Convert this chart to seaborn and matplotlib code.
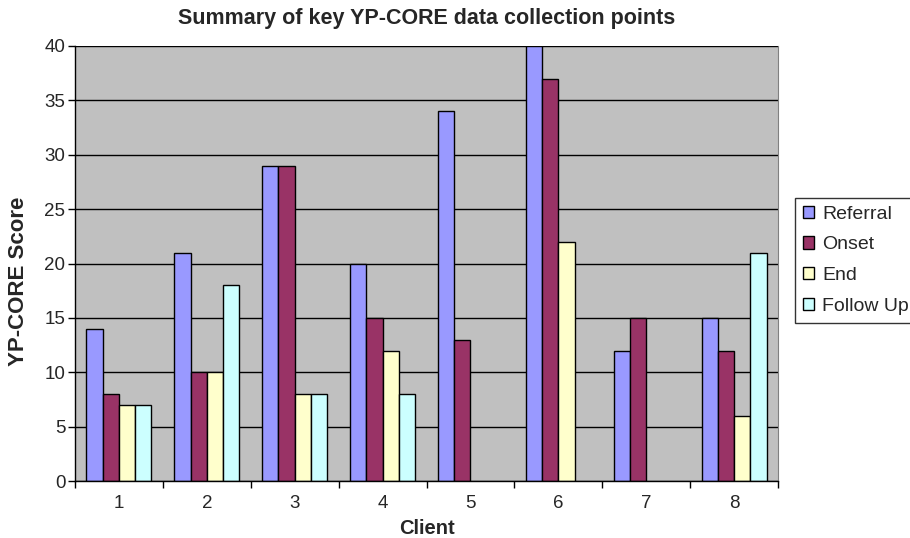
import numpy as np
import pandas as pd
import matplotlib
matplotlib.use("Agg")
import matplotlib.pyplot as plt
import seaborn as sns
from matplotlib.ticker import MultipleLocator, FixedLocator

clients = ["1", "2", "3", "4", "5", "6", "7", "8"]
referral = [14, 21, 29, 20, 34, 40, 12, 15]
onset = [8, 10, 29, 15, 13, 37, 15, 12]
end = [7, 10, 8, 12, np.nan, 22, np.nan, 6]
follow_up = [7, 18, 8, 8, np.nan, np.nan, np.nan, 21]
series = ["Referral", "Onset", "End", "Follow Up"]
colors = ["#9999FF", "#993366", "#FFFFCC", "#CCFFFF"]

rows = []
for name, vals in zip(series, [referral, onset, end, follow_up]):
    for c, v in zip(clients, vals):
        rows.append({"Client": c, "Series": name, "Score": v})
df = pd.DataFrame(rows)

sns.set_style("white")
plt.rcParams["font.family"] = ["Liberation Sans", "DejaVu Sans"]

fig = plt.figure(figsize=(9.1, 5.38), dpi=100)
L, R, T, B = 75, 778, 46, 481
ax = fig.add_axes([L / 910, 1 - B / 538, (R - L) / 910, (B - T) / 538])
ax.set_facecolor("#C0C0C0")

sns.barplot(data=df, x="Client", y="Score", hue="Series", hue_order=series,
            order=clients, palette=colors, width=0.74, saturation=1,
            edgecolor="black", linewidth=1, ax=ax, errorbar=None, legend=True)

ax.set_ylim(0, 40)
ax.set_xlim(-0.5, 7.5)
ax.yaxis.set_major_locator(MultipleLocator(5))
ax.grid(axis="y", color="black", linewidth=1)
ax.set_axisbelow(True)

ax.xaxis.set_minor_locator(FixedLocator(np.arange(-0.5, 8, 1)))
ax.tick_params(axis="x", which="major", length=0, labelsize=13.5, pad=10)
ax.tick_params(axis="x", which="minor", length=5, width=1, color="black", direction="out", bottom=True)
ax.tick_params(axis="y", which="major", length=5, width=1, color="black", direction="out", left=True,
               labelsize=13.5, pad=2)

for s in ["left", "bottom"]:
    ax.spines[s].set_color("black")
    ax.spines[s].set_linewidth(1)
ax.spines["top"].set_visible(False)
ax.spines["right"].set_color("#808080")

ax.set_xlabel("Client", fontsize=14.5, fontweight="bold", labelpad=5)
ax.set_ylabel("YP-CORE Score", fontsize=16, fontweight="bold")
ax.yaxis.set_label_coords(-0.066, 0.46)
ax.set_title("Summary of key YP-CORE data collection points", fontsize=15.5,
             fontweight="bold", pad=16)

leg = ax.legend(title=None, loc="upper left", bbox_to_anchor=(795 / 910, 1 - 198 / 538),
                bbox_transform=fig.transFigure, frameon=True, fancybox=False,
                edgecolor="black", fontsize=14, handlelength=0.6, handleheight=0.6,
                handletextpad=0.4, borderpad=0.4, labelspacing=0.7, borderaxespad=0)
leg.get_frame().set_linewidth(1)

fig.savefig("out.png", dpi=100)
